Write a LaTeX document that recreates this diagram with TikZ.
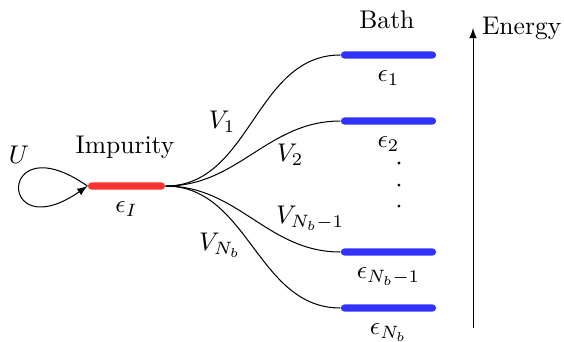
\documentclass[tikz,border=0pt]{standalone}
\definecolor{implevel}{RGB}{250,50,50}
\definecolor{bathlevel}{RGB}{50,50,250}
\begin{document}
\begin{tikzpicture}[
  level/.style={fill=#1, inner sep=0, minimum height=2.8pt, rounded corners=1.4pt},
  hyb/.style={out=0, in=180},
]
\useasboundingbox (0,0) rectangle (7.755,4.689);
% energy levels
\node[level=implevel, minimum width=1.06cm, label={[label distance=1pt]below:$\epsilon_I$}] (imp) at (1.739,2.131) {};
\node[level=bathlevel, minimum width=1.31cm, label={[label distance=1pt]below:$\epsilon_1$}] (b1) at (5.342,3.933) {};
\node[level=bathlevel, minimum width=1.31cm, label={[label distance=1pt]below:$\epsilon_2$}] (b2) at (5.342,3.025) {};
\node[level=bathlevel, minimum width=1.31cm, label={[label distance=1pt]below:$\epsilon_{N_b-1}$}] (b3) at (5.342,1.224) {};
\node[level=bathlevel, minimum width=1.31cm, label={[label distance=1pt]below:$\epsilon_{N_b}$}] (b4) at (5.342,0.454) {};
\node (impname) at (1.719,2.668) {Impurity};
\node (bathname) at (5.32,4.414) {Bath};
\node (u) at (0.261,2.558) {$U$};
\foreach \y in {2.448,2.145,1.856}
  \fill (5.486,\y) circle (0.6pt);
% interaction loop
\draw[-latex] (imp.west) .. controls +(145:1.52) and +(215:1.52) .. (imp.west);
% hybridisation
\draw (imp.east) to[hyb] (b1.west);
\draw (imp.east) to[hyb] (b2.west);
\draw (imp.east) to[hyb] (b3.west);
\draw (imp.east) to[hyb] (b4.west);
\node (v1) at (3.053,3.014) {$V_1$};
\node (v2) at (3.988,2.558) {$V_2$};
\node (v3) at (4.263,1.691) {$V_{N_b-1}$};
\node (v4) at (3.025,1.32) {$V_{N_b}$};
% energy axis
\coordinate (elow) at (6.504,0.179);
\coordinate (ehigh) at (6.504,4.304);
\draw[-latex] (elow) -- (ehigh);
\node[right] (energy) at (ehigh) {Energy};
\end{tikzpicture}
\end{document}
